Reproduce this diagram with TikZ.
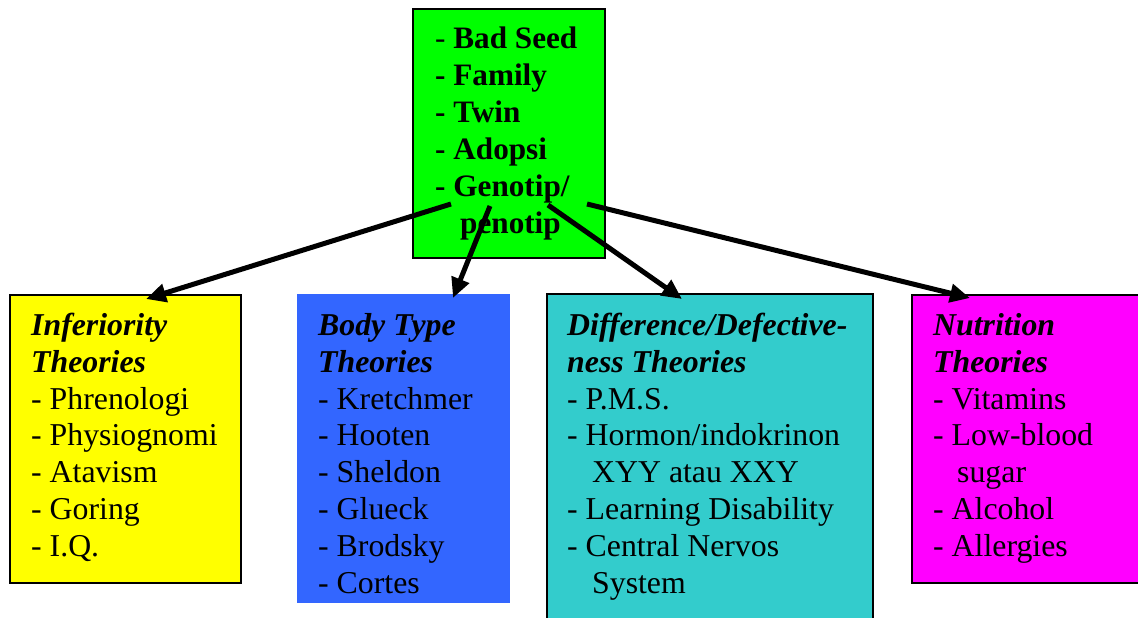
\documentclass[tikz,border=0pt]{standalone}
\usepackage{fontspec}
\setmainfont{Liberation Serif}
\usetikzlibrary{arrows.meta}
\definecolor{cgreen}{HTML}{00FF00}
\definecolor{cyellow}{HTML}{FFFF00}
\definecolor{cblue}{HTML}{3366FF}
\definecolor{ccyan}{HTML}{33CCCC}
\definecolor{cmagenta}{HTML}{FF00FF}
\begin{document}
\begin{tikzpicture}[x=1pt,y=-1pt,
  box/.style={draw=black,line width=2pt,anchor=north west,inner sep=0pt,outer sep=0pt},
  nobox/.style={anchor=north west,inner sep=0pt,outer sep=0pt},
  txt/.style={anchor=north west,inner sep=0pt,align=left,font=\fontsize{31.8}{36.9}\selectfont},
  arr/.style={line width=5pt,-{Triangle[length=20pt,width=18pt]}}]
\clip (0,0) rectangle (1138,618);
\fill[white] (0,0) rectangle (1138,618);
% boxes
\node[box,fill=cgreen,minimum width=192pt,minimum height=249pt] (gen) at (413,9) {};
\node[box,fill=cyellow,minimum width=231pt,minimum height=288pt] (inf) at (10,295) {};
\node[nobox,fill=cblue,minimum width=213pt,minimum height=309pt] (body) at (297,294) {};
\node[box,fill=ccyan,minimum width=326pt,minimum height=346pt] (diff) at (547,294) {};
\node[box,fill=cmagenta,minimum width=238pt,minimum height=288pt] (nut) at (912,295) {};
% texts
\node[txt,font=\fontsize{31.2}{37}\selectfont\bfseries] (gent) at (435,23)
  {\rule{0pt}{25pt}{\mdseries -} Bad Seed\\- Family\\- Twin\\- Adopsi\\- Genotip/\\\hspace*{25pt}penotip};
\node[txt] (inft) at (31,310)
  {\rule{0pt}{25pt}\textbf{\textit{Inferiority}}\\\textbf{\textit{Theories}}\\- Phrenologi\\- Physiognomi\\- Atavism\\- Goring\\- I.Q.};
\node[txt] (bodyt) at (318,310)
  {\rule{0pt}{25pt}\textbf{\textit{Body Type}}\\\textbf{\textit{Theories}}\\- Kretchmer\\- Hooten\\- Sheldon\\- Glueck\\- Brodsky\\- Cortes};
\node[txt] (difft) at (567,310)
  {\rule{0pt}{25pt}\textbf{\textit{Difference/Defective-}}\\\textbf{\textit{ness Theories}}\\- P.M.S.\\- Hormon/indokrinon\\\hspace*{25pt}XYY atau XXY\\- Learning Disability\\- Central Nervos\\\hspace*{25pt}System};
\node[txt] (nutt) at (933,310)
  {\rule{0pt}{25pt}\textbf{\textit{Nutrition}}\\\textbf{\textit{Theories}}\\- Vitamins\\- Low-blood\\\hspace*{24pt}sugar\\- Alcohol\\- Allergies};
% arrows
\coordinate (s1) at (451,204);
\coordinate (s2) at (490,206);
\coordinate (s3) at (548,205);
\coordinate (s4) at (587,204);
\coordinate (e1) at (146,299);
\coordinate (e2) at (453,298);
\coordinate (e3) at (682,299);
\coordinate (e4) at (970,298);
\draw[arr] (s1) -- (e1);
\draw[arr] (s2) -- (e2);
\draw[arr] (s3) -- (e3);
\draw[arr] (s4) -- (e4);
\end{tikzpicture}
\end{document}
